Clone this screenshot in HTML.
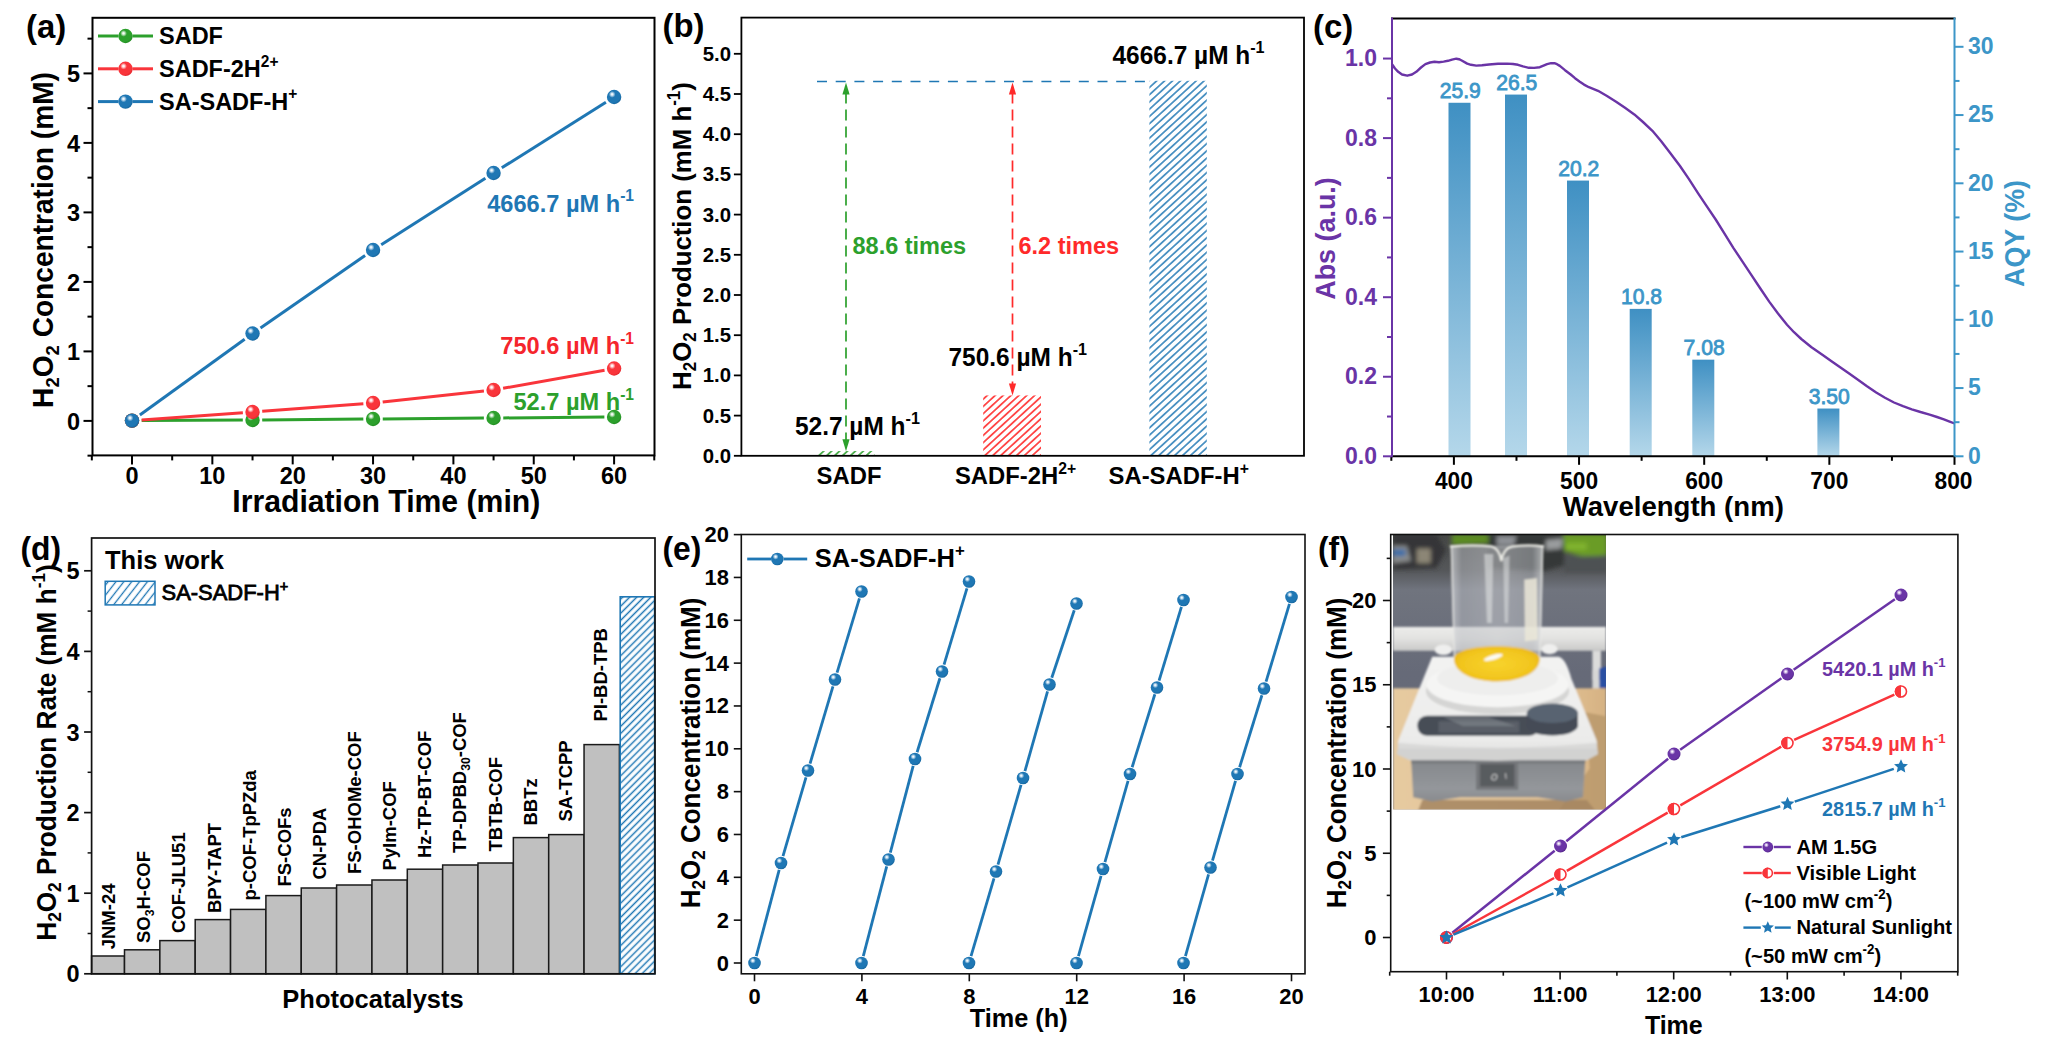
<!DOCTYPE html>
<html lang="en"><head><meta charset="utf-8"><title>Figure</title>
<style>
html,body{margin:0;padding:0;background:#fff;}
body{width:2048px;height:1046px;overflow:hidden;}
svg{display:block;font-family:"Liberation Sans",Arial,Helvetica,sans-serif;}
</style></head><body>
<svg width="2048" height="1046" viewBox="0 0 2048 1046">
<defs>
<radialGradient id="gG" cx="0.38" cy="0.34" r="0.68" fx="0.36" fy="0.31"><stop offset="0" stop-color="#ffffff"/><stop offset="0.10" stop-color="#e3f3e3"/><stop offset="0.34" stop-color="#2ca02c"/><stop offset="0.8" stop-color="#2ca02c"/><stop offset="1" stop-color="#218c21"/></radialGradient>
<radialGradient id="gR" cx="0.38" cy="0.34" r="0.68" fx="0.36" fy="0.31"><stop offset="0" stop-color="#ffffff"/><stop offset="0.10" stop-color="#ffe9e9"/><stop offset="0.34" stop-color="#f9353b"/><stop offset="0.8" stop-color="#f9353b"/><stop offset="1" stop-color="#e5282e"/></radialGradient>
<radialGradient id="gB" cx="0.38" cy="0.34" r="0.68" fx="0.36" fy="0.31"><stop offset="0" stop-color="#ffffff"/><stop offset="0.10" stop-color="#dcebf6"/><stop offset="0.34" stop-color="#1f77b4"/><stop offset="0.8" stop-color="#1f77b4"/><stop offset="1" stop-color="#17679f"/></radialGradient>
<radialGradient id="gP" cx="0.38" cy="0.34" r="0.68" fx="0.36" fy="0.31"><stop offset="0" stop-color="#ffffff"/><stop offset="0.10" stop-color="#e9dcf5"/><stop offset="0.34" stop-color="#6a34a6"/><stop offset="0.8" stop-color="#6a34a6"/><stop offset="1" stop-color="#55268a"/></radialGradient>
<pattern id="hG" patternUnits="userSpaceOnUse" width="5.34" height="5.34" patternTransform="rotate(-42.5)"><line x1="0" y1="2.67" x2="5.34" y2="2.67" stroke="#2ca02c" stroke-width="1.50"/></pattern>
<pattern id="hR" patternUnits="userSpaceOnUse" width="5.34" height="5.34" patternTransform="rotate(-42.5)"><line x1="0" y1="2.67" x2="5.34" y2="2.67" stroke="#ff2a2a" stroke-width="1.55"/></pattern>
<pattern id="hB" patternUnits="userSpaceOnUse" width="5.34" height="5.34" patternTransform="rotate(-42.5)"><line x1="0" y1="2.67" x2="5.34" y2="2.67" stroke="#1f77b4" stroke-width="1.45"/></pattern>
<pattern id="hB2" patternUnits="userSpaceOnUse" width="6.20" height="6.20" patternTransform="rotate(-52)"><line x1="0" y1="3.10" x2="6.20" y2="3.10" stroke="#1f77b4" stroke-width="1.30"/></pattern>
<pattern id="hB3" patternUnits="userSpaceOnUse" width="5.00" height="5.00" patternTransform="rotate(-45)"><line x1="0" y1="2.50" x2="5.00" y2="2.50" stroke="#1f77b4" stroke-width="1.50"/></pattern>
<linearGradient id="barG" x1="0" y1="0" x2="0" y2="1"><stop offset="0" stop-color="#3f90c3"/><stop offset="1" stop-color="#b4d7ea"/></linearGradient>
</defs>
<rect width="2048" height="1046" fill="#fff"/>
<g id="panel-a">
<rect x="92.50" y="17.80" width="562.00" height="437.60" fill="none" stroke="#000" stroke-width="2"/>
<line x1="132.00" y1="455.40" x2="132.00" y2="464.40" stroke="#000" stroke-width="2.00"/>
<text transform="translate(132.00 484.00) scale(1 1.035)" font-size="23.51" fill="#000" text-anchor="middle" font-weight="bold"><tspan>0</tspan></text>
<line x1="212.35" y1="455.40" x2="212.35" y2="464.40" stroke="#000" stroke-width="2.00"/>
<text transform="translate(212.35 484.00) scale(1 1.035)" font-size="23.51" fill="#000" text-anchor="middle" font-weight="bold"><tspan>10</tspan></text>
<line x1="292.70" y1="455.40" x2="292.70" y2="464.40" stroke="#000" stroke-width="2.00"/>
<text transform="translate(292.70 484.00) scale(1 1.035)" font-size="23.51" fill="#000" text-anchor="middle" font-weight="bold"><tspan>20</tspan></text>
<line x1="373.05" y1="455.40" x2="373.05" y2="464.40" stroke="#000" stroke-width="2.00"/>
<text transform="translate(373.05 484.00) scale(1 1.035)" font-size="23.51" fill="#000" text-anchor="middle" font-weight="bold"><tspan>30</tspan></text>
<line x1="453.40" y1="455.40" x2="453.40" y2="464.40" stroke="#000" stroke-width="2.00"/>
<text transform="translate(453.40 484.00) scale(1 1.035)" font-size="23.51" fill="#000" text-anchor="middle" font-weight="bold"><tspan>40</tspan></text>
<line x1="533.75" y1="455.40" x2="533.75" y2="464.40" stroke="#000" stroke-width="2.00"/>
<text transform="translate(533.75 484.00) scale(1 1.035)" font-size="23.51" fill="#000" text-anchor="middle" font-weight="bold"><tspan>50</tspan></text>
<line x1="614.10" y1="455.40" x2="614.10" y2="464.40" stroke="#000" stroke-width="2.00"/>
<text transform="translate(614.10 484.00) scale(1 1.035)" font-size="23.51" fill="#000" text-anchor="middle" font-weight="bold"><tspan>60</tspan></text>
<line x1="91.83" y1="455.40" x2="91.83" y2="460.40" stroke="#000" stroke-width="2.00"/>
<line x1="172.18" y1="455.40" x2="172.18" y2="460.40" stroke="#000" stroke-width="2.00"/>
<line x1="252.53" y1="455.40" x2="252.53" y2="460.40" stroke="#000" stroke-width="2.00"/>
<line x1="332.88" y1="455.40" x2="332.88" y2="460.40" stroke="#000" stroke-width="2.00"/>
<line x1="413.23" y1="455.40" x2="413.23" y2="460.40" stroke="#000" stroke-width="2.00"/>
<line x1="493.57" y1="455.40" x2="493.57" y2="460.40" stroke="#000" stroke-width="2.00"/>
<line x1="573.92" y1="455.40" x2="573.92" y2="460.40" stroke="#000" stroke-width="2.00"/>
<line x1="654.27" y1="455.40" x2="654.27" y2="460.40" stroke="#000" stroke-width="2.00"/>
<line x1="83.50" y1="420.90" x2="92.50" y2="420.90" stroke="#000" stroke-width="2.00"/>
<text transform="translate(80.00 429.90) scale(1 1.035)" font-size="23.51" fill="#000" text-anchor="end" font-weight="bold"><tspan>0</tspan></text>
<line x1="83.50" y1="351.40" x2="92.50" y2="351.40" stroke="#000" stroke-width="2.00"/>
<text transform="translate(80.00 360.40) scale(1 1.035)" font-size="23.51" fill="#000" text-anchor="end" font-weight="bold"><tspan>1</tspan></text>
<line x1="83.50" y1="281.90" x2="92.50" y2="281.90" stroke="#000" stroke-width="2.00"/>
<text transform="translate(80.00 290.90) scale(1 1.035)" font-size="23.51" fill="#000" text-anchor="end" font-weight="bold"><tspan>2</tspan></text>
<line x1="83.50" y1="212.40" x2="92.50" y2="212.40" stroke="#000" stroke-width="2.00"/>
<text transform="translate(80.00 221.40) scale(1 1.035)" font-size="23.51" fill="#000" text-anchor="end" font-weight="bold"><tspan>3</tspan></text>
<line x1="83.50" y1="142.90" x2="92.50" y2="142.90" stroke="#000" stroke-width="2.00"/>
<text transform="translate(80.00 151.90) scale(1 1.035)" font-size="23.51" fill="#000" text-anchor="end" font-weight="bold"><tspan>4</tspan></text>
<line x1="83.50" y1="73.40" x2="92.50" y2="73.40" stroke="#000" stroke-width="2.00"/>
<text transform="translate(80.00 82.40) scale(1 1.035)" font-size="23.51" fill="#000" text-anchor="end" font-weight="bold"><tspan>5</tspan></text>
<line x1="87.50" y1="455.65" x2="92.50" y2="455.65" stroke="#000" stroke-width="2.00"/>
<line x1="87.50" y1="386.15" x2="92.50" y2="386.15" stroke="#000" stroke-width="2.00"/>
<line x1="87.50" y1="316.65" x2="92.50" y2="316.65" stroke="#000" stroke-width="2.00"/>
<line x1="87.50" y1="247.15" x2="92.50" y2="247.15" stroke="#000" stroke-width="2.00"/>
<line x1="87.50" y1="177.65" x2="92.50" y2="177.65" stroke="#000" stroke-width="2.00"/>
<line x1="87.50" y1="108.15" x2="92.50" y2="108.15" stroke="#000" stroke-width="2.00"/>
<line x1="87.50" y1="38.65" x2="92.50" y2="38.65" stroke="#000" stroke-width="2.00"/>
<text transform="translate(386.30 512.00) scale(1 1.035)" font-size="30.20" fill="#000" text-anchor="middle" font-weight="bold"><tspan>Irradiation Time (min)</tspan></text>
<text transform="translate(53.00 240.00) rotate(-90) scale(1 1.035)" font-size="28.10" fill="#000" text-anchor="middle" font-weight="bold"><tspan>H</tspan><tspan dy="5.62" font-size="18.55">2</tspan><tspan dy="-5.62">O</tspan><tspan dy="5.62" font-size="18.55">2</tspan><tspan dy="-5.62"> Concentration (mM)</tspan></text>
<text transform="translate(26.00 37.80) scale(1 1.035)" font-size="32.92" fill="#000" text-anchor="start" font-weight="bold"><tspan>(a)</tspan></text>
<line x1="141.70" y1="420.55" x2="242.83" y2="420.05" stroke="#2ca02c" stroke-width="3.00" stroke-linecap="butt"/>
<line x1="262.22" y1="419.92" x2="363.35" y2="419.08" stroke="#2ca02c" stroke-width="3.00" stroke-linecap="butt"/>
<line x1="382.75" y1="418.92" x2="483.88" y2="418.08" stroke="#2ca02c" stroke-width="3.00" stroke-linecap="butt"/>
<line x1="503.27" y1="417.92" x2="604.40" y2="417.08" stroke="#2ca02c" stroke-width="3.00" stroke-linecap="butt"/>
<circle cx="132.00" cy="420.60" r="7.20" fill="url(#gG)"/>
<circle cx="252.53" cy="420.00" r="7.20" fill="url(#gG)"/>
<circle cx="373.05" cy="419.00" r="7.20" fill="url(#gG)"/>
<circle cx="493.57" cy="418.00" r="7.20" fill="url(#gG)"/>
<circle cx="614.10" cy="417.00" r="7.20" fill="url(#gG)"/>
<line x1="141.68" y1="419.91" x2="242.85" y2="412.69" stroke="#f9353b" stroke-width="3.00" stroke-linecap="butt"/>
<line x1="262.20" y1="411.28" x2="363.38" y2="403.72" stroke="#f9353b" stroke-width="3.00" stroke-linecap="butt"/>
<line x1="382.69" y1="401.96" x2="483.93" y2="391.04" stroke="#f9353b" stroke-width="3.00" stroke-linecap="butt"/>
<line x1="503.12" y1="388.30" x2="604.55" y2="370.20" stroke="#f9353b" stroke-width="3.00" stroke-linecap="butt"/>
<circle cx="132.00" cy="420.60" r="7.20" fill="url(#gR)"/>
<circle cx="252.53" cy="412.00" r="7.20" fill="url(#gR)"/>
<circle cx="373.05" cy="403.00" r="7.20" fill="url(#gR)"/>
<circle cx="493.57" cy="390.00" r="7.20" fill="url(#gR)"/>
<circle cx="614.10" cy="368.50" r="7.20" fill="url(#gR)"/>
<line x1="139.86" y1="414.92" x2="244.66" y2="339.18" stroke="#1f77b4" stroke-width="3.00" stroke-linecap="butt"/>
<line x1="260.50" y1="327.98" x2="365.08" y2="255.52" stroke="#1f77b4" stroke-width="3.00" stroke-linecap="butt"/>
<line x1="381.22" y1="244.78" x2="485.40" y2="178.22" stroke="#1f77b4" stroke-width="3.00" stroke-linecap="butt"/>
<line x1="501.78" y1="167.83" x2="605.90" y2="102.17" stroke="#1f77b4" stroke-width="3.00" stroke-linecap="butt"/>
<circle cx="132.00" cy="420.60" r="7.20" fill="url(#gB)"/>
<circle cx="252.53" cy="333.50" r="7.20" fill="url(#gB)"/>
<circle cx="373.05" cy="250.00" r="7.20" fill="url(#gB)"/>
<circle cx="493.57" cy="173.00" r="7.20" fill="url(#gB)"/>
<circle cx="614.10" cy="97.00" r="7.20" fill="url(#gB)"/>
<line x1="98.00" y1="36.00" x2="118.50" y2="36.00" stroke="#2ca02c" stroke-width="3.00"/>
<line x1="132.50" y1="36.00" x2="153.00" y2="36.00" stroke="#2ca02c" stroke-width="3.00"/>
<circle cx="125.50" cy="36.00" r="7.20" fill="url(#gG)"/>
<text transform="translate(159.00 44.00) scale(1 1.035)" font-size="23.51" fill="#000" text-anchor="start" font-weight="bold"><tspan>SADF</tspan></text>
<line x1="98.00" y1="68.80" x2="118.50" y2="68.80" stroke="#f9353b" stroke-width="3.00"/>
<line x1="132.50" y1="68.80" x2="153.00" y2="68.80" stroke="#f9353b" stroke-width="3.00"/>
<circle cx="125.50" cy="68.80" r="7.20" fill="url(#gR)"/>
<text transform="translate(159.00 76.80) scale(1 1.035)" font-size="23.51" fill="#000" text-anchor="start" font-weight="bold"><tspan>SADF-2H</tspan><tspan dy="-9.88" font-size="15.52">2+</tspan></text>
<line x1="98.00" y1="101.60" x2="118.50" y2="101.60" stroke="#1f77b4" stroke-width="3.00"/>
<line x1="132.50" y1="101.60" x2="153.00" y2="101.60" stroke="#1f77b4" stroke-width="3.00"/>
<circle cx="125.50" cy="101.60" r="7.20" fill="url(#gB)"/>
<text transform="translate(159.00 109.60) scale(1 1.035)" font-size="23.51" fill="#000" text-anchor="start" font-weight="bold"><tspan>SA-SADF-H</tspan><tspan dy="-9.88" font-size="15.52">+</tspan></text>
<text transform="translate(634.00 211.50) scale(1 1.035)" font-size="23.62" fill="#1f77b4" text-anchor="end" font-weight="bold"><tspan>4666.7</tspan><tspan> µM h</tspan><tspan dy="-9.92" font-size="15.59">-1</tspan></text>
<text transform="translate(634.00 354.00) scale(1 1.035)" font-size="23.62" fill="#f5252c" text-anchor="end" font-weight="bold"><tspan>750.6</tspan><tspan> µM h</tspan><tspan dy="-9.92" font-size="15.59">-1</tspan></text>
<text transform="translate(634.00 410.00) scale(1 1.035)" font-size="23.62" fill="#2ca02c" text-anchor="end" font-weight="bold"><tspan>52.7</tspan><tspan> µM h</tspan><tspan dy="-9.92" font-size="15.59">-1</tspan></text>
</g>
<g id="panel-b">
<rect x="817.5" y="451.06" width="57" height="4.74" fill="url(#hG)"/>
<rect x="983.2" y="395.45" width="57.8" height="60.35" fill="url(#hR)"/>
<rect x="1149.4" y="80.80" width="57.4" height="375.00" fill="url(#hB)"/>
<rect x="741.40" y="17.60" width="562.60" height="438.20" fill="none" stroke="#000" stroke-width="1.8"/>
<line x1="733.90" y1="455.80" x2="741.40" y2="455.80" stroke="#000" stroke-width="1.80"/>
<text transform="translate(731.00 462.80) scale(1 1.035)" font-size="20.38" fill="#000" text-anchor="end" font-weight="bold"><tspan>0.0</tspan></text>
<line x1="733.90" y1="415.60" x2="741.40" y2="415.60" stroke="#000" stroke-width="1.80"/>
<text transform="translate(731.00 422.60) scale(1 1.035)" font-size="20.38" fill="#000" text-anchor="end" font-weight="bold"><tspan>0.5</tspan></text>
<line x1="733.90" y1="375.40" x2="741.40" y2="375.40" stroke="#000" stroke-width="1.80"/>
<text transform="translate(731.00 382.40) scale(1 1.035)" font-size="20.38" fill="#000" text-anchor="end" font-weight="bold"><tspan>1.0</tspan></text>
<line x1="733.90" y1="335.20" x2="741.40" y2="335.20" stroke="#000" stroke-width="1.80"/>
<text transform="translate(731.00 342.20) scale(1 1.035)" font-size="20.38" fill="#000" text-anchor="end" font-weight="bold"><tspan>1.5</tspan></text>
<line x1="733.90" y1="295.00" x2="741.40" y2="295.00" stroke="#000" stroke-width="1.80"/>
<text transform="translate(731.00 302.00) scale(1 1.035)" font-size="20.38" fill="#000" text-anchor="end" font-weight="bold"><tspan>2.0</tspan></text>
<line x1="733.90" y1="254.80" x2="741.40" y2="254.80" stroke="#000" stroke-width="1.80"/>
<text transform="translate(731.00 261.80) scale(1 1.035)" font-size="20.38" fill="#000" text-anchor="end" font-weight="bold"><tspan>2.5</tspan></text>
<line x1="733.90" y1="214.60" x2="741.40" y2="214.60" stroke="#000" stroke-width="1.80"/>
<text transform="translate(731.00 221.60) scale(1 1.035)" font-size="20.38" fill="#000" text-anchor="end" font-weight="bold"><tspan>3.0</tspan></text>
<line x1="733.90" y1="174.40" x2="741.40" y2="174.40" stroke="#000" stroke-width="1.80"/>
<text transform="translate(731.00 181.40) scale(1 1.035)" font-size="20.38" fill="#000" text-anchor="end" font-weight="bold"><tspan>3.5</tspan></text>
<line x1="733.90" y1="134.20" x2="741.40" y2="134.20" stroke="#000" stroke-width="1.80"/>
<text transform="translate(731.00 141.20) scale(1 1.035)" font-size="20.38" fill="#000" text-anchor="end" font-weight="bold"><tspan>4.0</tspan></text>
<line x1="733.90" y1="94.00" x2="741.40" y2="94.00" stroke="#000" stroke-width="1.80"/>
<text transform="translate(731.00 101.00) scale(1 1.035)" font-size="20.38" fill="#000" text-anchor="end" font-weight="bold"><tspan>4.5</tspan></text>
<line x1="733.90" y1="53.80" x2="741.40" y2="53.80" stroke="#000" stroke-width="1.80"/>
<text transform="translate(731.00 60.80) scale(1 1.035)" font-size="20.38" fill="#000" text-anchor="end" font-weight="bold"><tspan>5.0</tspan></text>
<text transform="translate(849.00 483.50) scale(1 1.035)" font-size="23.83" fill="#000" text-anchor="middle" font-weight="bold"><tspan>SADF</tspan></text>
<text transform="translate(1015.50 484.00) scale(1 1.035)" font-size="23.83" fill="#000" text-anchor="middle" font-weight="bold"><tspan>SADF-2H</tspan><tspan dy="-10.01" font-size="15.73">2+</tspan></text>
<text transform="translate(1178.70 484.00) scale(1 1.035)" font-size="23.83" fill="#000" text-anchor="middle" font-weight="bold"><tspan>SA-SADF-H</tspan><tspan dy="-10.01" font-size="15.73">+</tspan></text>
<text transform="translate(691.00 236.00) rotate(-90) scale(1 1.035)" font-size="25.80" fill="#000" text-anchor="middle" font-weight="bold"><tspan>H</tspan><tspan dy="5.16" font-size="17.03">2</tspan><tspan dy="-5.16">O</tspan><tspan dy="5.16" font-size="17.03">2</tspan><tspan dy="-5.16"> Production (mM h</tspan><tspan dy="-10.84" font-size="17.03">-1</tspan><tspan dy="10.84">)</tspan></text>
<text transform="translate(662.50 37.20) scale(1 1.035)" font-size="32.92" fill="#000" text-anchor="start" font-weight="bold"><tspan>(b)</tspan></text>
<line x1="817.00" y1="81.50" x2="1149.00" y2="81.50" stroke="#1f77b4" stroke-width="1.70" stroke-dasharray="10 8.7"/>
<line x1="846.00" y1="92.50" x2="846.00" y2="441.30" stroke="#2ca02c" stroke-width="1.70" stroke-dasharray="11 6"/>
<polygon points="846.00,82.50 842.40,94.50 849.60,94.50" fill="#2ca02c"/>
<polygon points="846.00,451.30 842.40,439.30 849.60,439.30" fill="#2ca02c"/>
<line x1="1012.50" y1="92.50" x2="1012.50" y2="385.45" stroke="#ff2a2a" stroke-width="1.70" stroke-dasharray="11 6"/>
<polygon points="1012.50,82.50 1008.90,94.50 1016.10,94.50" fill="#ff2a2a"/>
<polygon points="1012.50,395.45 1008.90,383.45 1016.10,383.45" fill="#ff2a2a"/>
<text transform="translate(852.50 254.00) scale(1 1.035)" font-size="23.51" fill="#2ca02c" text-anchor="start" font-weight="bold"><tspan>88.6 times</tspan></text>
<text transform="translate(1018.50 254.00) scale(1 1.035)" font-size="23.51" fill="#ff2a2a" text-anchor="start" font-weight="bold"><tspan>6.2 times</tspan></text>
<text transform="translate(1112.50 63.50) scale(1 1.035)" font-size="24.45" fill="#000" text-anchor="start" font-weight="bold"><tspan>4666.7</tspan><tspan> µM h</tspan><tspan dy="-10.27" font-size="16.14">-1</tspan></text>
<text transform="translate(948.50 365.50) scale(1 1.035)" font-size="24.45" fill="#000" text-anchor="start" font-weight="bold"><tspan>750.6</tspan><tspan> µM h</tspan><tspan dy="-10.27" font-size="16.14">-1</tspan></text>
<text transform="translate(795.00 434.50) scale(1 1.035)" font-size="24.45" fill="#000" text-anchor="start" font-weight="bold"><tspan>52.7</tspan><tspan> µM h</tspan><tspan dy="-10.27" font-size="16.14">-1</tspan></text>
</g>
<g id="panel-c">
<rect x="1448.50" y="102.77" width="22" height="353.53" fill="url(#barG)"/>
<text transform="translate(1460.30 98.37) scale(1 1.035)" font-size="21.11" fill="#3c96c8" text-anchor="middle" font-weight="normal" stroke="#3c96c8" stroke-width="0.8"><tspan>25.9</tspan></text>
<rect x="1505.00" y="94.57" width="22" height="361.73" fill="url(#barG)"/>
<text transform="translate(1516.80 90.17) scale(1 1.035)" font-size="21.11" fill="#3c96c8" text-anchor="middle" font-weight="normal" stroke="#3c96c8" stroke-width="0.8"><tspan>26.5</tspan></text>
<rect x="1567.00" y="180.57" width="22" height="275.73" fill="url(#barG)"/>
<text transform="translate(1578.80 176.17) scale(1 1.035)" font-size="21.11" fill="#3c96c8" text-anchor="middle" font-weight="normal" stroke="#3c96c8" stroke-width="0.8"><tspan>20.2</tspan></text>
<rect x="1629.70" y="308.88" width="22" height="147.42" fill="url(#barG)"/>
<text transform="translate(1641.50 304.48) scale(1 1.035)" font-size="21.11" fill="#3c96c8" text-anchor="middle" font-weight="normal" stroke="#3c96c8" stroke-width="0.8"><tspan>10.8</tspan></text>
<rect x="1692.30" y="359.66" width="22" height="96.64" fill="url(#barG)"/>
<text transform="translate(1704.10 355.26) scale(1 1.035)" font-size="21.11" fill="#3c96c8" text-anchor="middle" font-weight="normal" stroke="#3c96c8" stroke-width="0.8"><tspan>7.08</tspan></text>
<rect x="1817.40" y="408.53" width="22" height="47.77" fill="url(#barG)"/>
<text transform="translate(1829.20 404.13) scale(1 1.035)" font-size="21.11" fill="#3c96c8" text-anchor="middle" font-weight="normal" stroke="#3c96c8" stroke-width="0.8"><tspan>3.50</tspan></text>
<polyline fill="none" stroke="#6a34a6" stroke-width="2.4" stroke-linejoin="round" points="1392.2,64.5 1395.0,68.5 1398.2,71.8 1402.0,74.5 1407.2,75.7 1412.0,74.5 1416.3,71.8 1421.0,67.5 1425.4,64.1 1430.0,62.5 1434.5,61.8 1439.0,62.2 1443.6,61.6 1448.0,60.8 1452.0,59.6 1456.3,58.7 1459.0,59.2 1461.7,60.5 1467.2,63.6 1471.0,64.8 1476.3,65.6 1482.0,65.2 1489.0,64.5 1498.0,63.8 1507.1,63.6 1513.0,64.0 1518.0,64.8 1523.0,66.4 1528.9,67.8 1534.0,67.9 1539.8,67.2 1543.5,65.6 1547.1,64.1 1551.0,63.2 1554.4,63.2 1557.0,64.2 1559.8,65.9 1565.0,70.2 1570.7,74.5 1575.0,78.2 1579.8,81.7 1584.0,84.6 1588.9,87.2 1598.0,90.8 1607.0,96.0 1616.1,101.7 1625.0,107.8 1634.3,114.4 1643.0,122.0 1652.4,130.8 1661.0,141.0 1670.6,153.5 1680.0,166.0 1688.8,178.9 1697.8,192.8 1706.5,205.8 1715.7,219.5 1724.5,233.6 1733.5,248.1 1742.5,261.6 1751.3,274.8 1760.0,288.0 1769.2,301.6 1778.0,313.5 1787.0,324.7 1794.0,332.2 1801.3,339.0 1811.5,347.2 1822.7,355.1 1831.5,361.3 1840.5,367.5 1849.5,373.8 1858.3,380.0 1867.0,386.3 1876.2,392.5 1885.0,397.8 1894.0,402.5 1903.0,406.2 1911.8,409.3 1920.5,412.0 1929.6,414.6 1937.0,417.0 1943.9,419.3 1949.0,421.3 1954.6,423.5"/>
<line x1="1391.00" y1="18.50" x2="1955.50" y2="18.50" stroke="#000" stroke-width="2.00"/>
<line x1="1391.00" y1="456.30" x2="1955.50" y2="456.30" stroke="#000" stroke-width="2.00"/>
<line x1="1392.00" y1="17.50" x2="1392.00" y2="457.30" stroke="#6a34a6" stroke-width="2.00"/>
<line x1="1954.50" y1="17.50" x2="1954.50" y2="457.30" stroke="#3c96c8" stroke-width="2.00"/>
<line x1="1453.90" y1="456.30" x2="1453.90" y2="464.80" stroke="#000" stroke-width="2.00"/>
<text transform="translate(1453.90 488.50) scale(1 1.035)" font-size="22.78" fill="#000" text-anchor="middle" font-weight="bold"><tspan>400</tspan></text>
<line x1="1579.05" y1="456.30" x2="1579.05" y2="464.80" stroke="#000" stroke-width="2.00"/>
<text transform="translate(1579.05 488.50) scale(1 1.035)" font-size="22.78" fill="#000" text-anchor="middle" font-weight="bold"><tspan>500</tspan></text>
<line x1="1704.20" y1="456.30" x2="1704.20" y2="464.80" stroke="#000" stroke-width="2.00"/>
<text transform="translate(1704.20 488.50) scale(1 1.035)" font-size="22.78" fill="#000" text-anchor="middle" font-weight="bold"><tspan>600</tspan></text>
<line x1="1829.35" y1="456.30" x2="1829.35" y2="464.80" stroke="#000" stroke-width="2.00"/>
<text transform="translate(1829.35 488.50) scale(1 1.035)" font-size="22.78" fill="#000" text-anchor="middle" font-weight="bold"><tspan>700</tspan></text>
<line x1="1954.50" y1="456.30" x2="1954.50" y2="464.80" stroke="#000" stroke-width="2.00"/>
<text transform="translate(1953.50 488.50) scale(1 1.035)" font-size="22.78" fill="#000" text-anchor="middle" font-weight="bold"><tspan>800</tspan></text>
<line x1="1391.33" y1="456.30" x2="1391.33" y2="460.80" stroke="#000" stroke-width="2.00"/>
<line x1="1516.48" y1="456.30" x2="1516.48" y2="460.80" stroke="#000" stroke-width="2.00"/>
<line x1="1641.62" y1="456.30" x2="1641.62" y2="460.80" stroke="#000" stroke-width="2.00"/>
<line x1="1766.78" y1="456.30" x2="1766.78" y2="460.80" stroke="#000" stroke-width="2.00"/>
<line x1="1891.93" y1="456.30" x2="1891.93" y2="460.80" stroke="#000" stroke-width="2.00"/>
<line x1="1383.00" y1="456.30" x2="1392.00" y2="456.30" stroke="#6a34a6" stroke-width="2.00"/>
<text transform="translate(1377.00 463.70) scale(1 1.035)" font-size="22.99" fill="#6a34a6" text-anchor="end" font-weight="bold"><tspan>0.0</tspan></text>
<line x1="1383.00" y1="376.75" x2="1392.00" y2="376.75" stroke="#6a34a6" stroke-width="2.00"/>
<text transform="translate(1377.00 384.15) scale(1 1.035)" font-size="22.99" fill="#6a34a6" text-anchor="end" font-weight="bold"><tspan>0.2</tspan></text>
<line x1="1383.00" y1="297.20" x2="1392.00" y2="297.20" stroke="#6a34a6" stroke-width="2.00"/>
<text transform="translate(1377.00 304.60) scale(1 1.035)" font-size="22.99" fill="#6a34a6" text-anchor="end" font-weight="bold"><tspan>0.4</tspan></text>
<line x1="1383.00" y1="217.65" x2="1392.00" y2="217.65" stroke="#6a34a6" stroke-width="2.00"/>
<text transform="translate(1377.00 225.05) scale(1 1.035)" font-size="22.99" fill="#6a34a6" text-anchor="end" font-weight="bold"><tspan>0.6</tspan></text>
<line x1="1383.00" y1="138.10" x2="1392.00" y2="138.10" stroke="#6a34a6" stroke-width="2.00"/>
<text transform="translate(1377.00 145.50) scale(1 1.035)" font-size="22.99" fill="#6a34a6" text-anchor="end" font-weight="bold"><tspan>0.8</tspan></text>
<line x1="1383.00" y1="58.55" x2="1392.00" y2="58.55" stroke="#6a34a6" stroke-width="2.00"/>
<text transform="translate(1377.00 65.95) scale(1 1.035)" font-size="22.99" fill="#6a34a6" text-anchor="end" font-weight="bold"><tspan>1.0</tspan></text>
<line x1="1387.00" y1="416.53" x2="1392.00" y2="416.53" stroke="#6a34a6" stroke-width="2.00"/>
<line x1="1387.00" y1="336.98" x2="1392.00" y2="336.98" stroke="#6a34a6" stroke-width="2.00"/>
<line x1="1387.00" y1="257.43" x2="1392.00" y2="257.43" stroke="#6a34a6" stroke-width="2.00"/>
<line x1="1387.00" y1="177.88" x2="1392.00" y2="177.88" stroke="#6a34a6" stroke-width="2.00"/>
<line x1="1387.00" y1="98.33" x2="1392.00" y2="98.33" stroke="#6a34a6" stroke-width="2.00"/>
<line x1="1954.50" y1="456.30" x2="1963.50" y2="456.30" stroke="#3c96c8" stroke-width="2.00"/>
<text transform="translate(1968.00 463.50) scale(1 1.035)" font-size="22.99" fill="#3c96c8" text-anchor="start" font-weight="bold"><tspan>0</tspan></text>
<line x1="1954.50" y1="388.05" x2="1963.50" y2="388.05" stroke="#3c96c8" stroke-width="2.00"/>
<text transform="translate(1968.00 395.25) scale(1 1.035)" font-size="22.99" fill="#3c96c8" text-anchor="start" font-weight="bold"><tspan>5</tspan></text>
<line x1="1954.50" y1="319.80" x2="1963.50" y2="319.80" stroke="#3c96c8" stroke-width="2.00"/>
<text transform="translate(1968.00 327.00) scale(1 1.035)" font-size="22.99" fill="#3c96c8" text-anchor="start" font-weight="bold"><tspan>10</tspan></text>
<line x1="1954.50" y1="251.55" x2="1963.50" y2="251.55" stroke="#3c96c8" stroke-width="2.00"/>
<text transform="translate(1968.00 258.75) scale(1 1.035)" font-size="22.99" fill="#3c96c8" text-anchor="start" font-weight="bold"><tspan>15</tspan></text>
<line x1="1954.50" y1="183.30" x2="1963.50" y2="183.30" stroke="#3c96c8" stroke-width="2.00"/>
<text transform="translate(1968.00 190.50) scale(1 1.035)" font-size="22.99" fill="#3c96c8" text-anchor="start" font-weight="bold"><tspan>20</tspan></text>
<line x1="1954.50" y1="115.05" x2="1963.50" y2="115.05" stroke="#3c96c8" stroke-width="2.00"/>
<text transform="translate(1968.00 122.25) scale(1 1.035)" font-size="22.99" fill="#3c96c8" text-anchor="start" font-weight="bold"><tspan>25</tspan></text>
<line x1="1954.50" y1="46.80" x2="1963.50" y2="46.80" stroke="#3c96c8" stroke-width="2.00"/>
<text transform="translate(1968.00 54.00) scale(1 1.035)" font-size="22.99" fill="#3c96c8" text-anchor="start" font-weight="bold"><tspan>30</tspan></text>
<line x1="1954.50" y1="422.18" x2="1959.50" y2="422.18" stroke="#3c96c8" stroke-width="2.00"/>
<line x1="1954.50" y1="353.93" x2="1959.50" y2="353.93" stroke="#3c96c8" stroke-width="2.00"/>
<line x1="1954.50" y1="285.68" x2="1959.50" y2="285.68" stroke="#3c96c8" stroke-width="2.00"/>
<line x1="1954.50" y1="217.43" x2="1959.50" y2="217.43" stroke="#3c96c8" stroke-width="2.00"/>
<line x1="1954.50" y1="149.18" x2="1959.50" y2="149.18" stroke="#3c96c8" stroke-width="2.00"/>
<line x1="1954.50" y1="80.93" x2="1959.50" y2="80.93" stroke="#3c96c8" stroke-width="2.00"/>
<text transform="translate(1673.30 515.50) scale(1 1.035)" font-size="27.59" fill="#000" text-anchor="middle" font-weight="bold"><tspan>Wavelength (nm)</tspan></text>
<text transform="translate(1335.00 238.50) rotate(-90) scale(1 1.035)" font-size="26.90" fill="#6a34a6" text-anchor="middle" font-weight="bold"><tspan>Abs (a.u.)</tspan></text>
<text transform="translate(2024.00 233.50) rotate(-90) scale(1 1.035)" font-size="26.90" fill="#3c96c8" text-anchor="middle" font-weight="bold"><tspan>AQY (%)</tspan></text>
<text transform="translate(1313.00 37.50) scale(1 1.035)" font-size="32.92" fill="#000" text-anchor="start" font-weight="bold"><tspan>(c)</tspan></text>
</g>
<g id="panel-d">
<rect x="91.60" y="956.00" width="32.90" height="17.80" fill="#c0c0c0" stroke="#1a1a1a" stroke-width="1.5"/>
<text transform="translate(115.20 949.30) rotate(-90) scale(1 1.035)" font-size="18.50" fill="#000" text-anchor="start" font-weight="bold"><tspan>JNM-24</tspan></text>
<rect x="124.50" y="949.80" width="35.35" height="24.00" fill="#c0c0c0" stroke="#1a1a1a" stroke-width="1.5"/>
<text transform="translate(150.32 943.00) rotate(-90) scale(1 1.035)" font-size="18.50" fill="#000" text-anchor="start" font-weight="bold"><tspan>SO</tspan><tspan dy="3.70" font-size="12.21">3</tspan><tspan dy="-3.70">H-COF</tspan></text>
<rect x="159.85" y="940.60" width="35.35" height="33.20" fill="#c0c0c0" stroke="#1a1a1a" stroke-width="1.5"/>
<text transform="translate(185.44 933.00) rotate(-90) scale(1 1.035)" font-size="18.50" fill="#000" text-anchor="start" font-weight="bold"><tspan>COF-JLU51</tspan></text>
<rect x="195.20" y="919.60" width="35.35" height="54.20" fill="#c0c0c0" stroke="#1a1a1a" stroke-width="1.5"/>
<text transform="translate(220.56 913.00) rotate(-90) scale(1 1.035)" font-size="18.50" fill="#000" text-anchor="start" font-weight="bold"><tspan>BPY-TAPT</tspan></text>
<rect x="230.55" y="909.40" width="35.35" height="64.40" fill="#c0c0c0" stroke="#1a1a1a" stroke-width="1.5"/>
<text transform="translate(255.68 900.50) rotate(-90) scale(1 1.035)" font-size="18.50" fill="#000" text-anchor="start" font-weight="bold"><tspan>p-COF-TpPZda</tspan></text>
<rect x="265.90" y="895.60" width="35.35" height="78.20" fill="#c0c0c0" stroke="#1a1a1a" stroke-width="1.5"/>
<text transform="translate(290.80 886.50) rotate(-90) scale(1 1.035)" font-size="18.50" fill="#000" text-anchor="start" font-weight="bold"><tspan>FS-COFs</tspan></text>
<rect x="301.25" y="888.00" width="35.35" height="85.80" fill="#c0c0c0" stroke="#1a1a1a" stroke-width="1.5"/>
<text transform="translate(325.92 879.50) rotate(-90) scale(1 1.035)" font-size="18.50" fill="#000" text-anchor="start" font-weight="bold"><tspan>CN-PDA</tspan></text>
<rect x="336.60" y="885.00" width="35.35" height="88.80" fill="#c0c0c0" stroke="#1a1a1a" stroke-width="1.5"/>
<text transform="translate(361.04 874.00) rotate(-90) scale(1 1.035)" font-size="18.50" fill="#000" text-anchor="start" font-weight="bold"><tspan>FS-OHOMe-COF</tspan></text>
<rect x="371.95" y="880.00" width="35.35" height="93.80" fill="#c0c0c0" stroke="#1a1a1a" stroke-width="1.5"/>
<text transform="translate(396.16 870.50) rotate(-90) scale(1 1.035)" font-size="18.50" fill="#000" text-anchor="start" font-weight="bold"><tspan>PyIm-COF</tspan></text>
<rect x="407.30" y="869.20" width="35.35" height="104.60" fill="#c0c0c0" stroke="#1a1a1a" stroke-width="1.5"/>
<text transform="translate(431.28 858.00) rotate(-90) scale(1 1.035)" font-size="18.50" fill="#000" text-anchor="start" font-weight="bold"><tspan>Hz-TP-BT-COF</tspan></text>
<rect x="442.65" y="865.00" width="35.35" height="108.80" fill="#c0c0c0" stroke="#1a1a1a" stroke-width="1.5"/>
<text transform="translate(466.40 853.00) rotate(-90) scale(1 1.035)" font-size="18.50" fill="#000" text-anchor="start" font-weight="bold"><tspan>TP-DPBD</tspan><tspan dy="3.70" font-size="12.21">30</tspan><tspan dy="-3.70">-COF</tspan></text>
<rect x="478.00" y="863.00" width="35.35" height="110.80" fill="#c0c0c0" stroke="#1a1a1a" stroke-width="1.5"/>
<text transform="translate(501.52 851.50) rotate(-90) scale(1 1.035)" font-size="18.50" fill="#000" text-anchor="start" font-weight="bold"><tspan>TBTB-COF</tspan></text>
<rect x="513.35" y="837.60" width="35.35" height="136.20" fill="#c0c0c0" stroke="#1a1a1a" stroke-width="1.5"/>
<text transform="translate(536.64 825.50) rotate(-90) scale(1 1.035)" font-size="18.50" fill="#000" text-anchor="start" font-weight="bold"><tspan>BBTz</tspan></text>
<rect x="548.70" y="834.60" width="35.35" height="139.20" fill="#c0c0c0" stroke="#1a1a1a" stroke-width="1.5"/>
<text transform="translate(571.76 821.50) rotate(-90) scale(1 1.035)" font-size="18.50" fill="#000" text-anchor="start" font-weight="bold"><tspan>SA-TCPP</tspan></text>
<rect x="584.05" y="744.60" width="35.35" height="229.20" fill="#c0c0c0" stroke="#1a1a1a" stroke-width="1.5"/>
<text transform="translate(606.88 721.50) rotate(-90) scale(1 1.035)" font-size="18.50" fill="#000" text-anchor="start" font-weight="bold"><tspan>PI-BD-TPB</tspan></text>
<rect x="620.20" y="596.80" width="34.40" height="377.00" fill="url(#hB3)" stroke="#1f77b4" stroke-width="1.6"/>
<rect x="91.60" y="538.00" width="563.40" height="435.80" fill="none" stroke="#111" stroke-width="1.7"/>
<line x1="84.10" y1="973.80" x2="91.60" y2="973.80" stroke="#111" stroke-width="1.70"/>
<text transform="translate(79.50 982.40) scale(1 1.035)" font-size="23.51" fill="#000" text-anchor="end" font-weight="bold"><tspan>0</tspan></text>
<line x1="84.10" y1="893.20" x2="91.60" y2="893.20" stroke="#111" stroke-width="1.70"/>
<text transform="translate(79.50 901.80) scale(1 1.035)" font-size="23.51" fill="#000" text-anchor="end" font-weight="bold"><tspan>1</tspan></text>
<line x1="84.10" y1="812.60" x2="91.60" y2="812.60" stroke="#111" stroke-width="1.70"/>
<text transform="translate(79.50 821.20) scale(1 1.035)" font-size="23.51" fill="#000" text-anchor="end" font-weight="bold"><tspan>2</tspan></text>
<line x1="84.10" y1="732.00" x2="91.60" y2="732.00" stroke="#111" stroke-width="1.70"/>
<text transform="translate(79.50 740.60) scale(1 1.035)" font-size="23.51" fill="#000" text-anchor="end" font-weight="bold"><tspan>3</tspan></text>
<line x1="84.10" y1="651.40" x2="91.60" y2="651.40" stroke="#111" stroke-width="1.70"/>
<text transform="translate(79.50 660.00) scale(1 1.035)" font-size="23.51" fill="#000" text-anchor="end" font-weight="bold"><tspan>4</tspan></text>
<line x1="84.10" y1="570.80" x2="91.60" y2="570.80" stroke="#111" stroke-width="1.70"/>
<text transform="translate(79.50 579.40) scale(1 1.035)" font-size="23.51" fill="#000" text-anchor="end" font-weight="bold"><tspan>5</tspan></text>
<line x1="87.60" y1="933.50" x2="91.60" y2="933.50" stroke="#111" stroke-width="1.50"/>
<line x1="87.60" y1="852.90" x2="91.60" y2="852.90" stroke="#111" stroke-width="1.50"/>
<line x1="87.60" y1="772.30" x2="91.60" y2="772.30" stroke="#111" stroke-width="1.50"/>
<line x1="87.60" y1="691.70" x2="91.60" y2="691.70" stroke="#111" stroke-width="1.50"/>
<line x1="87.60" y1="611.10" x2="91.60" y2="611.10" stroke="#111" stroke-width="1.50"/>
<text transform="translate(373.00 1008.00) scale(1 1.035)" font-size="25.50" fill="#000" text-anchor="middle" font-weight="bold"><tspan>Photocatalysts</tspan></text>
<text transform="translate(56.00 752.50) rotate(-90) scale(1 1.035)" font-size="26.20" fill="#000" text-anchor="middle" font-weight="bold"><tspan>H</tspan><tspan dy="5.24" font-size="17.29">2</tspan><tspan dy="-5.24">O</tspan><tspan dy="5.24" font-size="17.29">2</tspan><tspan dy="-5.24"> Production Rate (mM h</tspan><tspan dy="-11.00" font-size="17.29">-1</tspan><tspan dy="11.00">)</tspan></text>
<text transform="translate(20.50 559.50) scale(1 1.035)" font-size="31.87" fill="#000" text-anchor="start" font-weight="bold"><tspan>(d)</tspan></text>
<text transform="translate(105.00 568.70) scale(1 1.035)" font-size="25.50" fill="#000" text-anchor="start" font-weight="bold"><tspan>This work</tspan></text>
<rect x="105.2" y="581.3" width="49.8" height="23.6" fill="url(#hB2)" stroke="#1f77b4" stroke-width="1.5"/>
<text transform="translate(161.50 600.20) scale(1 1.035)" font-size="21.95" fill="#000" text-anchor="start" font-weight="normal" stroke="#000" stroke-width="0.8"><tspan>SA-SADF-H</tspan><tspan dy="-9.22" font-size="14.48">+</tspan></text>
</g>
<g id="panel-e">
<rect x="741.30" y="534.50" width="563.70" height="439.30" fill="none" stroke="#111" stroke-width="1.6"/>
<line x1="754.50" y1="973.80" x2="754.50" y2="981.30" stroke="#111" stroke-width="1.60"/>
<text transform="translate(754.50 1003.50) scale(1 1.035)" font-size="21.95" fill="#000" text-anchor="middle" font-weight="bold"><tspan>0</tspan></text>
<line x1="861.90" y1="973.80" x2="861.90" y2="981.30" stroke="#111" stroke-width="1.60"/>
<text transform="translate(861.90 1003.50) scale(1 1.035)" font-size="21.95" fill="#000" text-anchor="middle" font-weight="bold"><tspan>4</tspan></text>
<line x1="969.30" y1="973.80" x2="969.30" y2="981.30" stroke="#111" stroke-width="1.60"/>
<text transform="translate(969.30 1003.50) scale(1 1.035)" font-size="21.95" fill="#000" text-anchor="middle" font-weight="bold"><tspan>8</tspan></text>
<line x1="1076.70" y1="973.80" x2="1076.70" y2="981.30" stroke="#111" stroke-width="1.60"/>
<text transform="translate(1076.70 1003.50) scale(1 1.035)" font-size="21.95" fill="#000" text-anchor="middle" font-weight="bold"><tspan>12</tspan></text>
<line x1="1184.10" y1="973.80" x2="1184.10" y2="981.30" stroke="#111" stroke-width="1.60"/>
<text transform="translate(1184.10 1003.50) scale(1 1.035)" font-size="21.95" fill="#000" text-anchor="middle" font-weight="bold"><tspan>16</tspan></text>
<line x1="1291.50" y1="973.80" x2="1291.50" y2="981.30" stroke="#111" stroke-width="1.60"/>
<text transform="translate(1291.50 1003.50) scale(1 1.035)" font-size="21.95" fill="#000" text-anchor="middle" font-weight="bold"><tspan>20</tspan></text>
<line x1="733.80" y1="963.00" x2="741.30" y2="963.00" stroke="#111" stroke-width="1.60"/>
<text transform="translate(729.00 970.50) scale(1 1.035)" font-size="21.95" fill="#000" text-anchor="end" font-weight="bold"><tspan>0</tspan></text>
<line x1="733.80" y1="920.16" x2="741.30" y2="920.16" stroke="#111" stroke-width="1.60"/>
<text transform="translate(729.00 927.66) scale(1 1.035)" font-size="21.95" fill="#000" text-anchor="end" font-weight="bold"><tspan>2</tspan></text>
<line x1="733.80" y1="877.32" x2="741.30" y2="877.32" stroke="#111" stroke-width="1.60"/>
<text transform="translate(729.00 884.82) scale(1 1.035)" font-size="21.95" fill="#000" text-anchor="end" font-weight="bold"><tspan>4</tspan></text>
<line x1="733.80" y1="834.48" x2="741.30" y2="834.48" stroke="#111" stroke-width="1.60"/>
<text transform="translate(729.00 841.98) scale(1 1.035)" font-size="21.95" fill="#000" text-anchor="end" font-weight="bold"><tspan>6</tspan></text>
<line x1="733.80" y1="791.64" x2="741.30" y2="791.64" stroke="#111" stroke-width="1.60"/>
<text transform="translate(729.00 799.14) scale(1 1.035)" font-size="21.95" fill="#000" text-anchor="end" font-weight="bold"><tspan>8</tspan></text>
<line x1="733.80" y1="748.80" x2="741.30" y2="748.80" stroke="#111" stroke-width="1.60"/>
<text transform="translate(729.00 756.30) scale(1 1.035)" font-size="21.95" fill="#000" text-anchor="end" font-weight="bold"><tspan>10</tspan></text>
<line x1="733.80" y1="705.96" x2="741.30" y2="705.96" stroke="#111" stroke-width="1.60"/>
<text transform="translate(729.00 713.46) scale(1 1.035)" font-size="21.95" fill="#000" text-anchor="end" font-weight="bold"><tspan>12</tspan></text>
<line x1="733.80" y1="663.12" x2="741.30" y2="663.12" stroke="#111" stroke-width="1.60"/>
<text transform="translate(729.00 670.62) scale(1 1.035)" font-size="21.95" fill="#000" text-anchor="end" font-weight="bold"><tspan>14</tspan></text>
<line x1="733.80" y1="620.28" x2="741.30" y2="620.28" stroke="#111" stroke-width="1.60"/>
<text transform="translate(729.00 627.78) scale(1 1.035)" font-size="21.95" fill="#000" text-anchor="end" font-weight="bold"><tspan>16</tspan></text>
<line x1="733.80" y1="577.44" x2="741.30" y2="577.44" stroke="#111" stroke-width="1.60"/>
<text transform="translate(729.00 584.94) scale(1 1.035)" font-size="21.95" fill="#000" text-anchor="end" font-weight="bold"><tspan>18</tspan></text>
<line x1="733.80" y1="534.60" x2="741.30" y2="534.60" stroke="#111" stroke-width="1.60"/>
<text transform="translate(729.00 542.10) scale(1 1.035)" font-size="21.95" fill="#000" text-anchor="end" font-weight="bold"><tspan>20</tspan></text>
<text transform="translate(1018.70 1027.30) scale(1 1.035)" font-size="25.29" fill="#000" text-anchor="middle" font-weight="bold"><tspan>Time (h)</tspan></text>
<text transform="translate(700.00 753.00) rotate(-90) scale(1 1.035)" font-size="26.00" fill="#000" text-anchor="middle" font-weight="bold"><tspan>H</tspan><tspan dy="5.20" font-size="17.16">2</tspan><tspan dy="-5.20">O</tspan><tspan dy="5.20" font-size="17.16">2</tspan><tspan dy="-5.20"> Concentration (mM)</tspan></text>
<text transform="translate(662.50 559.50) scale(1 1.035)" font-size="31.87" fill="#000" text-anchor="start" font-weight="bold"><tspan>(e)</tspan></text>
<line x1="756.32" y1="956.14" x2="779.18" y2="869.86" stroke="#1f77b4" stroke-width="2.80" stroke-linecap="butt"/>
<line x1="782.99" y1="856.18" x2="806.01" y2="777.32" stroke="#1f77b4" stroke-width="2.80" stroke-linecap="butt"/>
<line x1="810.02" y1="763.69" x2="832.98" y2="686.31" stroke="#1f77b4" stroke-width="2.80" stroke-linecap="butt"/>
<line x1="837.05" y1="672.70" x2="859.45" y2="598.30" stroke="#1f77b4" stroke-width="2.80" stroke-linecap="butt"/>
<circle cx="754.50" cy="963.00" r="6.30" fill="url(#gB)"/>
<circle cx="781.00" cy="863.00" r="6.30" fill="url(#gB)"/>
<circle cx="808.00" cy="770.50" r="6.30" fill="url(#gB)"/>
<circle cx="835.00" cy="679.50" r="6.30" fill="url(#gB)"/>
<circle cx="861.50" cy="591.50" r="6.30" fill="url(#gB)"/>
<line x1="863.29" y1="956.13" x2="886.71" y2="866.37" stroke="#1f77b4" stroke-width="2.80" stroke-linecap="butt"/>
<line x1="890.31" y1="852.63" x2="913.19" y2="765.87" stroke="#1f77b4" stroke-width="2.80" stroke-linecap="butt"/>
<line x1="917.09" y1="752.22" x2="939.91" y2="678.28" stroke="#1f77b4" stroke-width="2.80" stroke-linecap="butt"/>
<line x1="944.04" y1="664.70" x2="966.96" y2="588.30" stroke="#1f77b4" stroke-width="2.80" stroke-linecap="butt"/>
<circle cx="861.50" cy="963.00" r="6.30" fill="url(#gB)"/>
<circle cx="888.50" cy="859.50" r="6.30" fill="url(#gB)"/>
<circle cx="915.00" cy="759.00" r="6.30" fill="url(#gB)"/>
<circle cx="942.00" cy="671.50" r="6.30" fill="url(#gB)"/>
<circle cx="969.00" cy="581.50" r="6.30" fill="url(#gB)"/>
<line x1="971.01" y1="956.19" x2="993.99" y2="878.31" stroke="#1f77b4" stroke-width="2.80" stroke-linecap="butt"/>
<line x1="997.97" y1="864.68" x2="1021.03" y2="784.82" stroke="#1f77b4" stroke-width="2.80" stroke-linecap="butt"/>
<line x1="1024.94" y1="771.17" x2="1047.56" y2="691.33" stroke="#1f77b4" stroke-width="2.80" stroke-linecap="butt"/>
<line x1="1051.75" y1="677.76" x2="1074.25" y2="610.24" stroke="#1f77b4" stroke-width="2.80" stroke-linecap="butt"/>
<circle cx="969.00" cy="963.00" r="6.30" fill="url(#gB)"/>
<circle cx="996.00" cy="871.50" r="6.30" fill="url(#gB)"/>
<circle cx="1023.00" cy="778.00" r="6.30" fill="url(#gB)"/>
<circle cx="1049.50" cy="684.50" r="6.30" fill="url(#gB)"/>
<circle cx="1076.50" cy="603.50" r="6.30" fill="url(#gB)"/>
<line x1="1078.43" y1="956.17" x2="1101.07" y2="875.83" stroke="#1f77b4" stroke-width="2.80" stroke-linecap="butt"/>
<line x1="1104.94" y1="862.17" x2="1128.06" y2="780.83" stroke="#1f77b4" stroke-width="2.80" stroke-linecap="butt"/>
<line x1="1132.12" y1="767.22" x2="1154.88" y2="694.28" stroke="#1f77b4" stroke-width="2.80" stroke-linecap="butt"/>
<line x1="1159.06" y1="680.70" x2="1181.44" y2="606.80" stroke="#1f77b4" stroke-width="2.80" stroke-linecap="butt"/>
<circle cx="1076.50" cy="963.00" r="6.30" fill="url(#gB)"/>
<circle cx="1103.00" cy="869.00" r="6.30" fill="url(#gB)"/>
<circle cx="1130.00" cy="774.00" r="6.30" fill="url(#gB)"/>
<circle cx="1157.00" cy="687.50" r="6.30" fill="url(#gB)"/>
<circle cx="1183.50" cy="600.00" r="6.30" fill="url(#gB)"/>
<line x1="1185.43" y1="956.17" x2="1208.57" y2="874.33" stroke="#1f77b4" stroke-width="2.80" stroke-linecap="butt"/>
<line x1="1212.47" y1="860.68" x2="1235.53" y2="780.82" stroke="#1f77b4" stroke-width="2.80" stroke-linecap="butt"/>
<line x1="1239.60" y1="767.22" x2="1261.90" y2="695.28" stroke="#1f77b4" stroke-width="2.80" stroke-linecap="butt"/>
<line x1="1266.04" y1="681.70" x2="1289.46" y2="603.80" stroke="#1f77b4" stroke-width="2.80" stroke-linecap="butt"/>
<circle cx="1183.50" cy="963.00" r="6.30" fill="url(#gB)"/>
<circle cx="1210.50" cy="867.50" r="6.30" fill="url(#gB)"/>
<circle cx="1237.50" cy="774.00" r="6.30" fill="url(#gB)"/>
<circle cx="1264.00" cy="688.50" r="6.30" fill="url(#gB)"/>
<circle cx="1291.50" cy="597.00" r="6.30" fill="url(#gB)"/>
<line x1="747.20" y1="559.00" x2="771.00" y2="559.00" stroke="#1f77b4" stroke-width="2.80"/>
<line x1="783.60" y1="559.00" x2="807.20" y2="559.00" stroke="#1f77b4" stroke-width="2.80"/>
<circle cx="777.30" cy="559.00" r="6.30" fill="url(#gB)"/>
<text transform="translate(814.80 567.30) scale(1 1.035)" font-size="25.50" fill="#000" text-anchor="start" font-weight="bold"><tspan>SA-SADF-H</tspan><tspan dy="-10.71" font-size="16.83">+</tspan></text>
</g>
<g id="panel-f">
<defs><clipPath id="phc"><rect x="1393.0" y="534.8" width="213.0" height="274.8"/></clipPath>
<filter id="bl1" x="-10%" y="-10%" width="120%" height="120%"><feGaussianBlur stdDeviation="0.9"/></filter>
<filter id="bl3" x="-10%" y="-10%" width="120%" height="120%"><feGaussianBlur stdDeviation="2.2"/></filter>
<linearGradient id="road" x1="0" y1="0" x2="0" y2="1"><stop offset="0" stop-color="#454745"/><stop offset="0.13" stop-color="#55575a"/><stop offset="0.2" stop-color="#70747e"/><stop offset="0.5" stop-color="#666a78"/><stop offset="1" stop-color="#646878"/></linearGradient>
<linearGradient id="wood" x1="0" y1="0" x2="1" y2="0"><stop offset="0" stop-color="#e6caa0"/><stop offset="0.75" stop-color="#e2c295"/><stop offset="1" stop-color="#d6b283"/></linearGradient>
<linearGradient id="rail" x1="0" y1="0" x2="0" y2="1"><stop offset="0" stop-color="#ececea"/><stop offset="0.5" stop-color="#e2e2e0"/><stop offset="1" stop-color="#c9c9c8"/></linearGradient>
<linearGradient id="plateG" x1="0" y1="0" x2="0" y2="1"><stop offset="0" stop-color="#f3f3f2"/><stop offset="0.8" stop-color="#ebebea"/><stop offset="1" stop-color="#dededd"/></linearGradient>
<linearGradient id="baseG" x1="0" y1="0" x2="0" y2="1"><stop offset="0" stop-color="#84878b"/><stop offset="0.7" stop-color="#94979b"/><stop offset="1" stop-color="#898b8e"/></linearGradient>
<radialGradient id="liq" cx="0.5" cy="0.5" r="0.6"><stop offset="0" stop-color="#f7d32c"/><stop offset="0.7" stop-color="#f2c51e"/><stop offset="1" stop-color="#e6b214"/></radialGradient>
<linearGradient id="glassG" x1="0" y1="0" x2="1" y2="0"><stop offset="0" stop-color="#d8dadd" stop-opacity="0.75"/><stop offset="0.12" stop-color="#b9bcc2" stop-opacity="0.5"/><stop offset="0.5" stop-color="#c6c8cc" stop-opacity="0.55"/><stop offset="0.88" stop-color="#b9bcc2" stop-opacity="0.5"/><stop offset="1" stop-color="#dcdedf" stop-opacity="0.75"/></linearGradient>
</defs>
<g clip-path="url(#phc)">
<rect x="1393.0" y="534.8" width="213.0" height="274.8" fill="url(#road)"/>
<g filter="url(#bl3)">
<polygon points="1392.8,534.4 1436.4,534.4 1446.2,549.9 1436.4,568.1 1392.8,569.5" fill="#343637"/>
<polygon points="1392.8,545.7 1406.9,545.7 1411.1,561.1 1392.8,563.2" fill="#8a8c8c"/>
<polygon points="1392.8,549.2 1405.5,549.2 1405.5,556.2 1392.8,556.2" fill="#3f6ea8"/>
<polygon points="1416.7,548.5 1430.8,548.5 1430.8,563.2 1416.7,563.2" fill="#8c8676"/>
<polygon points="1488.4,534.4 1564.3,534.4 1564.3,565.3 1544.6,571.0 1488.4,568.1" fill="#353738"/>
<polygon points="1496.8,535.8 1516.5,535.8 1513.7,545.7 1496.8,545.7" fill="#8d9094"/>
<polygon points="1546.0,540.0 1562.9,538.6 1561.5,548.5 1546.0,549.9" fill="#9a9c9e"/>
<polygon points="1451.8,533.7 1488.4,533.7 1488.4,543.5 1451.8,544.9" fill="#5c8c20"/>
<polygon points="1562.9,533.7 1607.2,533.7 1607.2,555.5 1584.0,556.9 1564.3,551.3" fill="#6a9c25"/>
<polygon points="1565.7,542.8 1586.8,542.8 1586.8,549.9 1565.7,549.9" fill="#80b32e"/>
<polygon points="1564.3,556.9 1607.2,555.5 1607.2,572.4 1564.3,572.4" fill="#4e5152"/>
</g>
<g filter="url(#bl1)">
<rect x="1393.0" y="626.9" width="213.0" height="23.9" fill="url(#rail)"/>
<polygon points="1592.4,650.8 1600.9,650.8 1600.9,680.0 1592.4,680.0" fill="#dcdcdb"/>
<polygon points="1592.4,670.0 1600.9,670.0 1600.9,689.0 1592.4,689.0" fill="#d6d6d5"/>
<polygon points="1599.4,667.9 1607.2,666.5 1607.2,680.0 1599.4,680.0" fill="#2b50a3"/>
<polygon points="1599.4,670.0 1607.2,670.0 1607.2,688.3 1599.4,688.3" fill="#2b50a3"/>
<rect x="1393.0" y="688.3" width="213.0" height="274.8" fill="url(#wood)"/>
<polygon points="1585.4,712.2 1607.2,716.4 1607.2,810.6 1558.7,810.6 1589.6,768.4" fill="#b8976a" opacity="0.8"/>
<polygon points="1422.3,800.0 1586.8,800.0 1595.2,810.6 1418.1,810.6" fill="#a58560" opacity="0.85"/>
<path d="M1411.1 758.6 L1585.4 758.6 L1582.9 797.2 L1565.7 801.4 L1537.6 797.2 L1460.3 797.2 L1432.2 801.4 L1413.2 797.2 Z" fill="url(#baseG)"/>
<polygon points="1411.1,758.6 1585.4,758.6 1585.1,763.5 1411.4,763.5" fill="#76797d"/>
<polygon points="1476.0,760.8 1518.2,760.8 1518.2,789.8 1476.0,789.8" fill="#74777a"/>
<polygon points="1480.0,763.9 1514.4,763.9 1514.4,786.4 1480.0,786.4" fill="#595c5f"/>
<ellipse cx="1494.3" cy="777.1" rx="2.4" ry="3" fill="none" stroke="#d8d8d8" stroke-width="0.9" transform="rotate(25 1494.3 777.1)"/>
<line x1="1505.5" y1="773.3" x2="1506.1" y2="778.9" stroke="#d8d8d8" stroke-width="0.9"/>
<path d="M1432.2 656.7 L1558.7 656.7 Q1565.7 658.1 1571.3 678.4 L1596.6 740.3 Q1599.4 754.3 1586.8 760.0 L1409.7 760.0 Q1395.6 754.3 1398.4 740.3 Z" fill="url(#plateG)"/>
<path d="M1398.2 743.1 Q1496.8 752.2 1596.9 743.1 L1597.8 752.9 Q1496.8 768.4 1397.3 752.9 Z" fill="#d9d9d8"/>
<polygon points="1398.4,748.7 1596.6,748.7 1598.0,754.3 1586.8,760.2 1409.7,760.2 1396.7,754.3" fill="#d2d2d1"/>
<ellipse cx="1497.5" cy="691.1" rx="71.7" ry="23.2" fill="#d5d5d4"/>
<ellipse cx="1497.5" cy="684.8" rx="71.0" ry="22.5" fill="#f5f5f4"/>
<ellipse cx="1497.5" cy="678.4" rx="60.4" ry="16.9" fill="#eeeeed"/>
<ellipse cx="1443.4" cy="649.7" rx="8.7" ry="5.3" fill="#efefee"/>
<ellipse cx="1549.5" cy="649.1" rx="8.2" ry="5.1" fill="#efefee"/>
<rect x="1417.4" y="715.7" width="121.6" height="20.1" rx="9.5" fill="#474d57"/>
<polygon points="1438.5,721.3 1519.3,721.3 1519.3,732.6 1438.5,732.6" fill="#5a5f67"/>
<polygon points="1443.4,717.1 1488.4,717.1 1516.5,726.2 1463.1,726.2" fill="#8f949b" opacity="0.45"/>
<ellipse cx="1552.4" cy="725.5" rx="25.6" ry="10.1" fill="#454c57"/>
<polygon points="1526.8,713.6 1577.9,713.6 1577.9,725.5 1526.8,725.5" fill="#454c57"/>
<ellipse cx="1552.4" cy="713.3" rx="25.6" ry="9.8" fill="#596371"/>
<path d="M1450.7 545.4 L1454.0 659.5 Q1456.1 673.6 1474.3 677.8 L1520.7 677.8 Q1537.6 673.6 1540.1 659.5 L1543.2 545.4 Z" fill="url(#glassG)"/>
<polygon points="1484.2,554.1 1493.3,554.1 1491.9,623.0 1487.0,623.0" fill="#e6e7e8" opacity="0.55"/>
<polygon points="1503.2,558.3 1509.5,555.5 1508.1,623.0 1504.6,623.0" fill="#e6e7e8" opacity="0.5"/>
<polygon points="1524.2,579.4 1536.9,578.0 1537.6,639.8 1524.9,641.2" fill="#ebe7d8" opacity="0.85"/>
<path d="M1450.7 546.4 Q1474.3 544.2 1491.2 546.4 Q1499.6 548.5 1501.3 561.1 Q1503.2 548.5 1512.3 546.4 Q1529.2 544.2 1543.2 546.4" fill="none" stroke="#ecece6" stroke-width="2.2" stroke-linecap="round"/>
<line x1="1451.3" y1="546.4" x2="1454.4" y2="659.5" stroke="#e9e9e6" stroke-width="1.4" opacity="0.9"/>
<line x1="1542.7" y1="546.4" x2="1539.8" y2="659.5" stroke="#e9e9e6" stroke-width="1.4" opacity="0.9"/>
<path d="M1454.0 658.9 C1454.0 650.4 1474.3 646.3 1496.8 646.3 C1519.3 646.3 1539.7 650.4 1539.7 658.9 C1539.7 672.2 1520.7 681.4 1496.8 681.4 C1472.9 681.4 1454.0 672.2 1454.0 658.9 Z" fill="url(#liq)"/>
<ellipse cx="1493.3" cy="657.4" rx="9.8" ry="2.4" fill="#fbfbf6" transform="rotate(-16 1493.3 657.4)"/>
</g>
</g>
<rect x="1390.70" y="534.50" width="567.20" height="437.20" fill="none" stroke="#111" stroke-width="1.6"/>
<line x1="1446.50" y1="971.70" x2="1446.50" y2="979.50" stroke="#111" stroke-width="1.60"/>
<text transform="translate(1446.50 1002.20) scale(1 1.035)" font-size="21.95" fill="#000" text-anchor="middle" font-weight="bold"><tspan>10:00</tspan></text>
<line x1="1560.10" y1="971.70" x2="1560.10" y2="979.50" stroke="#111" stroke-width="1.60"/>
<text transform="translate(1560.10 1002.20) scale(1 1.035)" font-size="21.95" fill="#000" text-anchor="middle" font-weight="bold"><tspan>11:00</tspan></text>
<line x1="1673.70" y1="971.70" x2="1673.70" y2="979.50" stroke="#111" stroke-width="1.60"/>
<text transform="translate(1673.70 1002.20) scale(1 1.035)" font-size="21.95" fill="#000" text-anchor="middle" font-weight="bold"><tspan>12:00</tspan></text>
<line x1="1787.30" y1="971.70" x2="1787.30" y2="979.50" stroke="#111" stroke-width="1.60"/>
<text transform="translate(1787.30 1002.20) scale(1 1.035)" font-size="21.95" fill="#000" text-anchor="middle" font-weight="bold"><tspan>13:00</tspan></text>
<line x1="1900.90" y1="971.70" x2="1900.90" y2="979.50" stroke="#111" stroke-width="1.60"/>
<text transform="translate(1900.90 1002.20) scale(1 1.035)" font-size="21.95" fill="#000" text-anchor="middle" font-weight="bold"><tspan>14:00</tspan></text>
<line x1="1389.70" y1="971.70" x2="1389.70" y2="975.70" stroke="#111" stroke-width="1.60"/>
<line x1="1503.30" y1="971.70" x2="1503.30" y2="975.70" stroke="#111" stroke-width="1.60"/>
<line x1="1616.90" y1="971.70" x2="1616.90" y2="975.70" stroke="#111" stroke-width="1.60"/>
<line x1="1730.50" y1="971.70" x2="1730.50" y2="975.70" stroke="#111" stroke-width="1.60"/>
<line x1="1844.10" y1="971.70" x2="1844.10" y2="975.70" stroke="#111" stroke-width="1.60"/>
<line x1="1957.70" y1="971.70" x2="1957.70" y2="975.70" stroke="#111" stroke-width="1.60"/>
<line x1="1382.90" y1="937.50" x2="1390.70" y2="937.50" stroke="#111" stroke-width="1.60"/>
<text transform="translate(1376.50 945.00) scale(1 1.035)" font-size="21.95" fill="#000" text-anchor="end" font-weight="bold"><tspan>0</tspan></text>
<line x1="1382.90" y1="853.25" x2="1390.70" y2="853.25" stroke="#111" stroke-width="1.60"/>
<text transform="translate(1376.50 860.75) scale(1 1.035)" font-size="21.95" fill="#000" text-anchor="end" font-weight="bold"><tspan>5</tspan></text>
<line x1="1382.90" y1="769.00" x2="1390.70" y2="769.00" stroke="#111" stroke-width="1.60"/>
<text transform="translate(1376.50 776.50) scale(1 1.035)" font-size="21.95" fill="#000" text-anchor="end" font-weight="bold"><tspan>10</tspan></text>
<line x1="1382.90" y1="684.75" x2="1390.70" y2="684.75" stroke="#111" stroke-width="1.60"/>
<text transform="translate(1376.50 692.25) scale(1 1.035)" font-size="21.95" fill="#000" text-anchor="end" font-weight="bold"><tspan>15</tspan></text>
<line x1="1382.90" y1="600.50" x2="1390.70" y2="600.50" stroke="#111" stroke-width="1.60"/>
<text transform="translate(1376.50 608.00) scale(1 1.035)" font-size="21.95" fill="#000" text-anchor="end" font-weight="bold"><tspan>20</tspan></text>
<line x1="1386.70" y1="895.38" x2="1390.70" y2="895.38" stroke="#111" stroke-width="1.60"/>
<line x1="1386.70" y1="811.12" x2="1390.70" y2="811.12" stroke="#111" stroke-width="1.60"/>
<line x1="1386.70" y1="726.88" x2="1390.70" y2="726.88" stroke="#111" stroke-width="1.60"/>
<line x1="1386.70" y1="642.62" x2="1390.70" y2="642.62" stroke="#111" stroke-width="1.60"/>
<line x1="1386.70" y1="558.38" x2="1390.70" y2="558.38" stroke="#111" stroke-width="1.60"/>
<text transform="translate(1673.80 1034.20) scale(1 1.035)" font-size="24.98" fill="#000" text-anchor="middle" font-weight="bold"><tspan>Time</tspan></text>
<text transform="translate(1346.00 753.00) rotate(-90) scale(1 1.035)" font-size="26.00" fill="#000" text-anchor="middle" font-weight="bold"><tspan>H</tspan><tspan dy="5.20" font-size="17.16">2</tspan><tspan dy="-5.20">O</tspan><tspan dy="5.20" font-size="17.16">2</tspan><tspan dy="-5.20"> Concentration (mM)</tspan></text>
<text transform="translate(1318.00 559.50) scale(1 1.035)" font-size="31.87" fill="#000" text-anchor="start" font-weight="bold"><tspan>(f)</tspan></text>
<line x1="1452.35" y1="932.81" x2="1554.65" y2="850.69" stroke="#6a34a6" stroke-width="2.50" stroke-linecap="butt"/>
<line x1="1566.33" y1="841.28" x2="1668.17" y2="758.72" stroke="#6a34a6" stroke-width="2.50" stroke-linecap="butt"/>
<line x1="1680.13" y1="749.68" x2="1781.37" y2="678.32" stroke="#6a34a6" stroke-width="2.50" stroke-linecap="butt"/>
<line x1="1793.66" y1="669.72" x2="1894.84" y2="599.28" stroke="#6a34a6" stroke-width="2.50" stroke-linecap="butt"/>
<circle cx="1446.50" cy="937.50" r="6.50" fill="url(#gP)"/>
<circle cx="1560.50" cy="846.00" r="6.50" fill="url(#gP)"/>
<circle cx="1674.00" cy="754.00" r="6.50" fill="url(#gP)"/>
<circle cx="1787.50" cy="674.00" r="6.50" fill="url(#gP)"/>
<circle cx="1901.00" cy="595.00" r="6.50" fill="url(#gP)"/>
<line x1="1452.89" y1="933.97" x2="1554.11" y2="878.03" stroke="#f9353b" stroke-width="2.50" stroke-linecap="butt"/>
<line x1="1566.82" y1="870.85" x2="1667.68" y2="812.65" stroke="#f9353b" stroke-width="2.50" stroke-linecap="butt"/>
<line x1="1680.31" y1="805.33" x2="1781.19" y2="746.67" stroke="#f9353b" stroke-width="2.50" stroke-linecap="butt"/>
<line x1="1794.15" y1="739.98" x2="1894.35" y2="694.52" stroke="#f9353b" stroke-width="2.50" stroke-linecap="butt"/>
<circle cx="1446.50" cy="937.50" r="5.50" fill="#fff" stroke="#f9353b" stroke-width="1.6"/>
<path d="M1446.50 931.20 A6.30 6.30 0 0 0 1446.50 943.80 Z" fill="#f9353b"/>
<circle cx="1560.50" cy="874.50" r="5.50" fill="#fff" stroke="#f9353b" stroke-width="1.6"/>
<path d="M1560.50 868.20 A6.30 6.30 0 0 0 1560.50 880.80 Z" fill="#f9353b"/>
<circle cx="1674.00" cy="809.00" r="5.50" fill="#fff" stroke="#f9353b" stroke-width="1.6"/>
<path d="M1674.00 802.70 A6.30 6.30 0 0 0 1674.00 815.30 Z" fill="#f9353b"/>
<circle cx="1787.50" cy="743.00" r="5.50" fill="#fff" stroke="#f9353b" stroke-width="1.6"/>
<path d="M1787.50 736.70 A6.30 6.30 0 0 0 1787.50 749.30 Z" fill="#f9353b"/>
<circle cx="1901.00" cy="691.50" r="5.50" fill="#fff" stroke="#f9353b" stroke-width="1.6"/>
<path d="M1901.00 685.20 A6.30 6.30 0 0 0 1901.00 697.80 Z" fill="#f9353b"/>
<line x1="1453.53" y1="934.60" x2="1553.47" y2="893.40" stroke="#1f77b4" stroke-width="2.50" stroke-linecap="butt"/>
<line x1="1567.43" y1="887.39" x2="1667.07" y2="842.61" stroke="#1f77b4" stroke-width="2.50" stroke-linecap="butt"/>
<line x1="1681.25" y1="837.23" x2="1780.25" y2="806.27" stroke="#1f77b4" stroke-width="2.50" stroke-linecap="butt"/>
<line x1="1794.72" y1="801.62" x2="1893.78" y2="768.88" stroke="#1f77b4" stroke-width="2.50" stroke-linecap="butt"/>
<polygon points="1446.50,930.20 1448.52,934.72 1453.44,935.24 1449.76,938.56 1450.79,943.41 1446.50,940.93 1442.21,943.41 1443.24,938.56 1439.56,935.24 1444.48,934.72" fill="#1f77b4"/>
<polygon points="1560.50,883.20 1562.52,887.72 1567.44,888.24 1563.76,891.56 1564.79,896.41 1560.50,893.93 1556.21,896.41 1557.24,891.56 1553.56,888.24 1558.48,887.72" fill="#1f77b4"/>
<polygon points="1674.00,832.20 1676.02,836.72 1680.94,837.24 1677.26,840.56 1678.29,845.41 1674.00,842.93 1669.71,845.41 1670.74,840.56 1667.06,837.24 1671.98,836.72" fill="#1f77b4"/>
<polygon points="1787.50,796.70 1789.52,801.22 1794.44,801.74 1790.76,805.06 1791.79,809.91 1787.50,807.43 1783.21,809.91 1784.24,805.06 1780.56,801.74 1785.48,801.22" fill="#1f77b4"/>
<polygon points="1901.00,759.20 1903.02,763.72 1907.94,764.24 1904.26,767.56 1905.29,772.41 1901.00,769.93 1896.71,772.41 1897.74,767.56 1894.06,764.24 1898.98,763.72" fill="#1f77b4"/>
<text transform="translate(1945.50 675.70) scale(1 1.035)" font-size="19.85" fill="#6a34a6" text-anchor="end" font-weight="bold"><tspan>5420.1</tspan><tspan> µM h</tspan><tspan dy="-8.34" font-size="13.10">-1</tspan></text>
<text transform="translate(1945.50 751.20) scale(1 1.035)" font-size="19.85" fill="#f9353b" text-anchor="end" font-weight="bold"><tspan>3754.9</tspan><tspan> µM h</tspan><tspan dy="-8.34" font-size="13.10">-1</tspan></text>
<text transform="translate(1945.50 815.60) scale(1 1.035)" font-size="19.85" fill="#1f77b4" text-anchor="end" font-weight="bold"><tspan>2815.7</tspan><tspan> µM h</tspan><tspan dy="-8.34" font-size="13.10">-1</tspan></text>
<line x1="1743.40" y1="847.00" x2="1761.80" y2="847.00" stroke="#6a34a6" stroke-width="2.40"/>
<line x1="1773.80" y1="847.00" x2="1790.80" y2="847.00" stroke="#6a34a6" stroke-width="2.40"/>
<circle cx="1767.80" cy="847.00" r="5.40" fill="url(#gP)"/>
<text transform="translate(1796.40 853.80) scale(1 1.035)" font-size="20.17" fill="#000" text-anchor="start" font-weight="bold"><tspan>AM 1.5G</tspan></text>
<line x1="1743.40" y1="873.00" x2="1761.80" y2="873.00" stroke="#f9353b" stroke-width="2.40"/>
<line x1="1773.80" y1="873.00" x2="1790.80" y2="873.00" stroke="#f9353b" stroke-width="2.40"/>
<circle cx="1767.80" cy="873.00" r="4.60" fill="#fff" stroke="#f9353b" stroke-width="1.6"/>
<path d="M1767.80 867.60 A5.40 5.40 0 0 0 1767.80 878.40 Z" fill="#f9353b"/>
<text transform="translate(1796.40 879.80) scale(1 1.035)" font-size="20.17" fill="#000" text-anchor="start" font-weight="bold"><tspan>Visible Light</tspan></text>
<line x1="1743.40" y1="927.60" x2="1760.80" y2="927.60" stroke="#1f77b4" stroke-width="2.40"/>
<line x1="1774.80" y1="927.60" x2="1790.80" y2="927.60" stroke="#1f77b4" stroke-width="2.40"/>
<polygon points="1767.80,921.20 1769.57,925.17 1773.89,925.62 1770.66,928.53 1771.56,932.78 1767.80,930.61 1764.04,932.78 1764.94,928.53 1761.71,925.62 1766.03,925.17" fill="#1f77b4"/>
<text transform="translate(1796.40 934.40) scale(1 1.035)" font-size="20.17" fill="#000" text-anchor="start" font-weight="bold"><tspan>Natural Sunlight</tspan></text>
<text transform="translate(1744.40 908.00) scale(1 1.035)" font-size="20.17" fill="#000" text-anchor="start" font-weight="bold"><tspan>(~100 mW cm</tspan><tspan dy="-8.47" font-size="13.31">-2</tspan><tspan dy="8.47">)</tspan></text>
<text transform="translate(1744.40 962.50) scale(1 1.035)" font-size="20.17" fill="#000" text-anchor="start" font-weight="bold"><tspan>(~50 mW cm</tspan><tspan dy="-8.47" font-size="13.31">-2</tspan><tspan dy="8.47">)</tspan></text>
</g>
</svg></body></html>
